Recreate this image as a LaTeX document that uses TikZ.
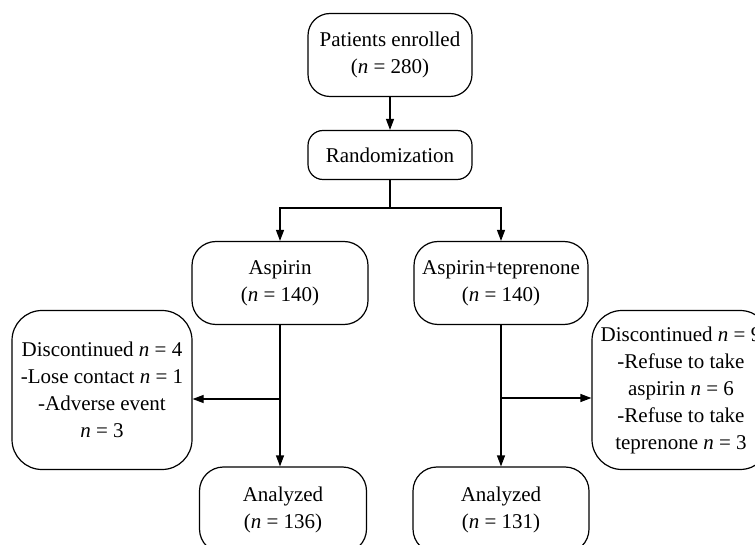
\documentclass[tikz,border=0pt]{standalone}
\usepackage{fontspec}
\setmainfont{Liberation Serif}
\usetikzlibrary{arrows.meta}
\begin{document}
\begin{tikzpicture}[x=1pt,y=-1pt,
  box/.style={draw, line width=1.2pt, align=center, inner sep=0pt,
    font=\fontsize{21}{27}\selectfont},
  conn/.style={line width=1.2pt},
  arr/.style={conn, -{Triangle[length=11pt,width=8pt]}}]
\useasboundingbox (0,0) rectangle (755,545);
\clip (0,0) rectangle (755,545);
\node[box, rounded corners=22pt, minimum width=164pt, minimum height=83pt] (pat) at (390,55) {Patients enrolled\\(\textit{n} = 280)};
\node[box, rounded corners=15pt, minimum width=164pt, minimum height=49pt] (rand) at (390,155) {Randomization};
\node[box, rounded corners=24pt, minimum width=176pt, minimum height=83pt] (asp) at (280,283) {Aspirin\\(\textit{n} = 140)};
\node[box, rounded corners=24pt, minimum width=174pt, minimum height=83pt] (apt) at (501,283) {Aspirin+teprenone\\(\textit{n} = 140)};
\node[box, rounded corners=30pt, minimum width=180pt, minimum height=159pt] (disL) at (102,390) {Discontinued \textit{n} = 4\\-Lose contact \textit{n} = 1\\-Adverse event\\\textit{n} = 3};
\node[box, rounded corners=30pt, minimum width=178pt, minimum height=159pt] (disR) at (681,390) {Discontinued \textit{n} = 9\\-Refuse to take\\aspirin \textit{n} = 6\\-Refuse to take\\teprenone \textit{n} = 3};
\node[box, rounded corners=24pt, minimum width=167pt, minimum height=86pt] (anaL) at (283,510) {Analyzed\\(\textit{n} = 136)};
\node[box, rounded corners=24pt, minimum width=176pt, minimum height=86pt] (anaR) at (501,510) {Analyzed\\(\textit{n} = 131)};
\coordinate (split) at (390,208);
\coordinate (bl) at (280,399);
\coordinate (br) at (502,398);
\draw[arr] (pat) -- (rand);
\draw[conn] (rand.south) -- (split);
\draw[arr] (split) -| (asp.north);
\draw[arr] (split) -| (apt.north);
\draw[arr] (asp.south) -- (asp.south |- anaL.north);
\draw[arr] (apt.south) -- (apt.south |- anaR.north);
\draw[arr] (bl) -- (bl -| disL.east);
\draw[arr] (br) -- (br -| disR.west);
\end{tikzpicture}
\end{document}
